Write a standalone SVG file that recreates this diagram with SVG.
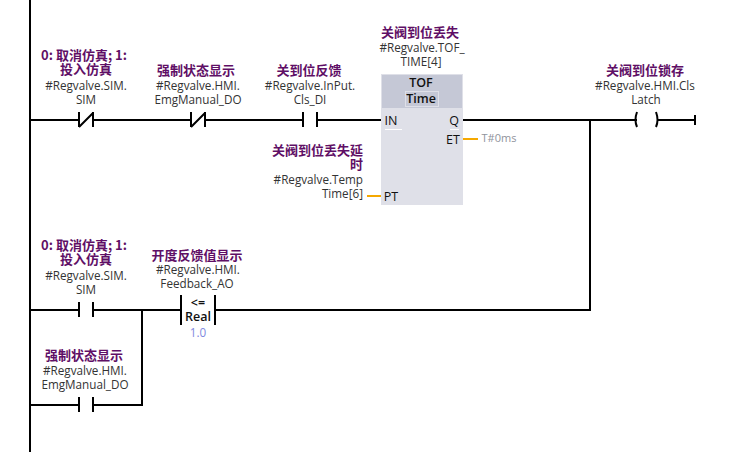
<svg xmlns="http://www.w3.org/2000/svg" width="741" height="464" viewBox="0 0 741 464">
<style>
text{font-family:"Open Sans","Noto Sans","Liberation Sans","Noto Sans CJK SC",sans-serif;text-anchor:middle;font-size:11.7px;fill:#333}
.c{font-family:"Noto Sans CJK SC",sans-serif;font-weight:700;fill:#5f0f66;font-size:13px}
.r{text-anchor:end}
.w{stroke:#000;stroke-width:2;fill:none}
.o{stroke:#f5a800;stroke-width:2;fill:none}
.p{font-size:12.5px;fill:#111}
.b{font-weight:600}
.u{stroke:#fff;stroke-width:1;fill:none}
</style>
<rect width="741" height="464" fill="#fff"/>
<g id="connectors">
<path class="w" d="M30 0V452"/>
<path class="w" d="M30 120H79M93 120H191M205 120H303M317 120H381M463 120H637M657 120H694M590 120V311"/>
<path class="w" d="M30 310H79M93 310H181M215 310H591M142 310V406M30 405H79M93 405H143"/>
<path class="o" d="M367 196H381M463 139H478"/>
<path d="M694 115h2v10h-2z" fill="#000"/>
</g>
<g id="contact1">
<text class="c" x="84" y="60">0: 取消仿真; 1:</text><text class="c" x="86" y="74">投入仿真</text>
<text x="86" y="89.500">#Regvalve.SIM.</text><text x="86" y="103.500">SIM</text>
<path class="w" d="M79 112V127M93 112V127M79 127L93 113"/>
</g>
<g id="contact2">
<text class="c" x="196" y="75">强制状态显示</text>
<text x="198" y="89.500">#Regvalve.HMI.</text><text x="198" y="103.500">EmgManual_DO</text>
<path class="w" d="M191 112V127M205 112V127M191 127L205 113"/>
</g>
<g id="contact3">
<text class="c" x="309" y="75">关到位反馈</text>
<text x="310" y="89.500">#Regvalve.InPut.</text><text x="310" y="103.500">Cls_DI</text>
<path class="w" d="M303 112V127M317 112V127"/>
</g>
<g id="tof">
<text class="c" x="420" y="37">关阀到位丢失</text>
<text x="422" y="52">#Regvalve.TOF_</text><text x="421" y="66">TIME[4]</text>
<rect x="381" y="74" width="82" height="131" fill="#dfe0e8"/>
<rect x="382" y="75" width="80" height="33" fill="#c5c8d6"/>
<rect x="405.500" y="91.500" width="33" height="15" fill="none" stroke="#dfe0e8"/>
<path class="u" d="M385 129.500H402M450 129.500H459"/>
<text class="p b" x="421" y="87">TOF</text>
<text class="p b" x="421" y="103">Time</text>
<text class="p" x="391" y="125">IN</text>
<text class="p" x="454" y="125">Q</text>
<text class="p" x="453" y="144">ET</text>
<text class="p" x="391" y="201">PT</text>
<text x="499" y="142" style="fill:#8f939c;font-size:11px">T#0ms</text>
<text class="c r" x="363" y="155">关阀到位丢失延</text><text class="c r" x="363" y="169">时</text>
<text class="r" x="363" y="184">#Regvalve.Temp</text><text class="r" x="363" y="198">Time[6]</text>
</g>
<g id="coil">
<text class="c" x="645" y="75">关阀到位锁存</text>
<text x="645" y="89.500">#Regvalve.HMI.Cls</text><text x="646" y="103.500">Latch</text>
<path class="w" d="M637 112Q634 120 637 127M656 112Q659 120 656 127"/>
</g>
<g id="contact4">
<text class="c" x="84" y="250">0: 取消仿真; 1:</text><text class="c" x="86" y="264">投入仿真</text>
<text x="86" y="279.500">#Regvalve.SIM.</text><text x="86" y="293.500">SIM</text>
<path class="w" d="M79 302V317M93 302V317"/>
</g>
<g id="compare">
<text class="c" x="197" y="260">开度反馈值显示</text>
<text x="198" y="274">#Regvalve.HMI.</text><text x="197" y="288">Feedback_AO</text>
<path class="w" d="M181 295V325M215 295V325"/>
<text class="p b" x="198" y="307">&lt;=</text>
<text class="p b" x="198" y="321">Real</text>
<text x="198" y="337" style="fill:#7f8ae0">1.0</text>
</g>
<g id="contact5">
<text class="c" x="84" y="360">强制状态显示</text>
<text x="85" y="375">#Regvalve.HMI.</text><text x="85" y="389">EmgManual_DO</text>
<path class="w" d="M79 397V412M93 397V412"/>
</g>
</svg>
